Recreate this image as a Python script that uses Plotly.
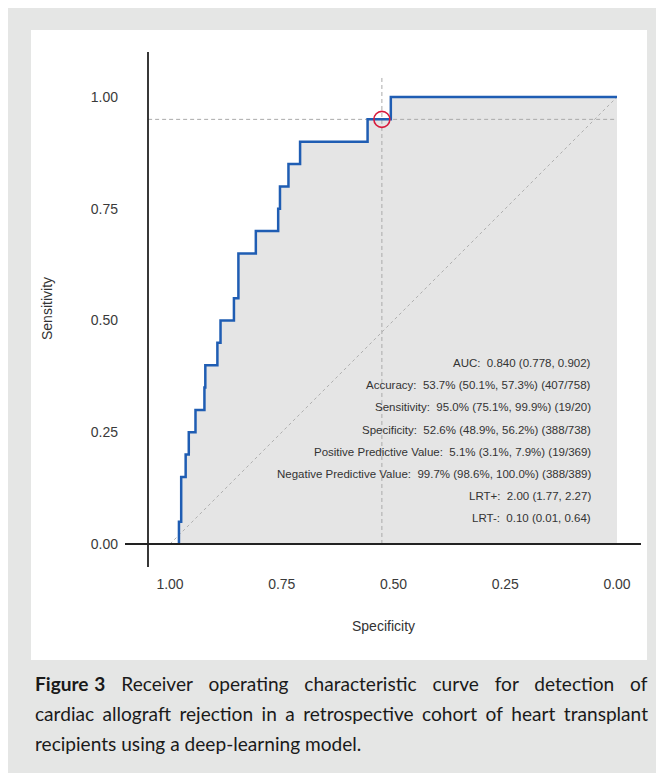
import plotly.graph_objects as go

# ---------------- data ----------------
roc_specificity = [0.980, 0.975, 0.965, 0.958, 0.943, 0.923, 0.921, 0.894, 0.887, 0.857,
                   0.847, 0.808, 0.758, 0.754, 0.735, 0.709, 0.558, 0.506, 0.000]
roc_sensitivity = [0.00, 0.05, 0.15, 0.20, 0.25, 0.30, 0.35, 0.40, 0.45, 0.50,
                   0.55, 0.65, 0.70, 0.75, 0.80, 0.85, 0.90, 0.95, 1.00]

threshold_specificity = 0.526
threshold_sensitivity = 0.950

chance_specificity = [1.0, 0.0]
chance_sensitivity = [0.0, 1.0]

tick_values = [1.00, 0.75, 0.50, 0.25, 0.00]
tick_labels = ["1.00", "0.75", "0.50", "0.25", "0.00"]

stats_lines = [
    "AUC:\u00a0 0.840 (0.778, 0.902)",
    "Accuracy:\u00a0 53.7% (50.1%, 57.3%) (407/758)",
    "Sensitivity:\u00a0 95.0% (75.1%, 99.9%) (19/20)",
    "Specificity:\u00a0 52.6% (48.9%, 56.2%) (388/738)",
    "Positive Predictive Value:\u00a0 5.1% (3.1%, 7.9%) (19/369)",
    "Negative Predictive Value:\u00a0 99.7% (98.6%, 100.0%) (388/389)",
    "LRT+:\u00a0 2.00 (1.77, 2.27)",
    "LRT-:\u00a0 0.10 (0.01, 0.64)",
]

caption_words = [
    ["Figure\u00a0\u200a3", "Receiver", "operating", "characteristic", "curve", "for", "detection", "of"],
    ["cardiac", "allograft", "rejection", "in", "a", "retrospective", "cohort", "of", "heart",
     "transplant"],
    ["recipients", "using", "a", "deep-learning", "model."],
]
# word gaps imitating the justified caption lines
caption_gaps = ["\u00a0\u00a0\u200a ", "\u2009\u200a ", " "]

# ---------------- layout geometry (pixels) ----------------
OFF = 8  # page body margin offset of the screenshot
W, H = 664, 773
PLOT_X0, PLOT_X1, PLOT_Y0, PLOT_Y1 = 125 - OFF, 641 - OFF, 52 - OFF, 567 - OFF
L, R, T, B = PLOT_X0, W - PLOT_X1, PLOT_Y0, H - PLOT_Y1
PW, PH = PLOT_X1 - PLOT_X0, PLOT_Y1 - PLOT_Y0
X_RANGE = [1.1007, -0.0537]
Y_RANGE = [-0.0515, 1.1007]


def px(x):
    """reference-screen x pixel -> paper coordinate"""
    return (x - OFF - L) / PW


def py(y):
    """reference-screen y pixel -> paper coordinate"""
    return (PLOT_Y1 - (y - OFF)) / PH


FONT = "Liberation Sans, Arial, Helvetica, sans-serif"
CAP_FONT = "Lato, Open Sans, sans-serif"

fig = go.Figure()

# AUC fill
fig.add_trace(go.Scatter(
    x=roc_specificity, y=roc_sensitivity, mode="lines", line=dict(width=0, shape="vh"),
    fill="tozeroy", fillcolor="#e5e5e5", hoverinfo="skip", showlegend=False))

# chance diagonal
fig.add_trace(go.Scatter(
    x=chance_specificity, y=chance_sensitivity, mode="lines",
    line=dict(color="#b0b0b0", width=1, dash="dot"), showlegend=False, hoverinfo="skip"))

# threshold guide lines
fig.add_trace(go.Scatter(
    x=[1.049, 0.0], y=[threshold_sensitivity, threshold_sensitivity], mode="lines",
    line=dict(color="#aaaaaa", width=1, dash="4px,3px"), showlegend=False, hoverinfo="skip"))
fig.add_trace(go.Scatter(
    x=[threshold_specificity, threshold_specificity], y=[0.0, 1.049], mode="lines",
    line=dict(color="#aaaaaa", width=1, dash="4px,3px"), showlegend=False, hoverinfo="skip"))

# ROC curve
fig.add_trace(go.Scatter(
    x=roc_specificity, y=roc_sensitivity, mode="lines",
    line=dict(color="#1f5db3", width=2.5, shape="vh"), showlegend=False))

# threshold point
fig.add_trace(go.Scatter(
    x=[threshold_specificity], y=[threshold_sensitivity], mode="markers",
    marker=dict(symbol="circle-open", size=16, color="#d81b3c", line=dict(width=1.6)),
    showlegend=False))

shapes = [
    # white panel on grey page
    dict(type="rect", xref="paper", yref="paper", x0=px(31), x1=px(647), y0=py(30), y1=py(660),
         fillcolor="#ffffff", line=dict(width=0), layer="below"),
    # axis lines
    dict(type="line", xref="paper", yref="paper", x0=px(148), x1=px(148), y0=0, y1=1,
         line=dict(color="#222222", width=1.8)),
    dict(type="line", xref="paper", yref="y", x0=0, x1=1, y0=0, y1=0,
         line=dict(color="#222222", width=1.8)),
]

annotations = []
for i, s in enumerate(stats_lines):
    annotations.append(dict(
        x=0.0537, y=0.405 - 0.0497 * i, xref="x", yref="y", text=s, showarrow=False,
        xanchor="right", yanchor="middle", font=dict(family=FONT, size=11.5, color="#333333")))

annotations.append(dict(x=px(383), y=py(626), xref="paper", yref="paper", text="Specificity",
                        showarrow=False, xanchor="center", yanchor="middle",
                        font=dict(family=FONT, size=14, color="#333333")))
annotations.append(dict(x=px(47), y=py(309), xref="paper", yref="paper", text="Sensitivity",
                        showarrow=False, xanchor="center", yanchor="middle", textangle=-90,
                        font=dict(family=FONT, size=14, color="#333333")))

for i, (words, gap) in enumerate(zip(caption_words, caption_gaps)):
    if i == 0:
        text = "<b>" + words[0] + "</b>" + gap + gap.join(words[1:])
    else:
        text = gap.join(words)
    annotations.append(dict(x=px(33), y=py(683 + 30 * i), xref="paper", yref="paper", text=text,
                            showarrow=False, xanchor="left", yanchor="middle",
                            font=dict(family=CAP_FONT, size=19.1, color="#1a1a1a")))

fig.update_layout(
    width=W, height=H, margin=dict(l=L, r=R, t=T, b=B, pad=0),
    paper_bgcolor="#e5e6e5", plot_bgcolor="rgba(0,0,0,0)",
    shapes=shapes, annotations=annotations, showlegend=False,
    xaxis=dict(range=X_RANGE, tickvals=tick_values, ticktext=tick_labels, showgrid=False,
               zeroline=False, showline=False, ticks="", ticklabelstandoff=7,
               tickfont=dict(family=FONT, size=14, color="#3a3a3a"), fixedrange=True),
    yaxis=dict(range=Y_RANGE, tickvals=tick_values, ticktext=tick_labels, showgrid=False,
               zeroline=False, showline=False, ticks="", ticklabelstandoff=6,
               tickfont=dict(family=FONT, size=14, color="#3a3a3a"), fixedrange=True),
)

fig.write_html("out.html")
